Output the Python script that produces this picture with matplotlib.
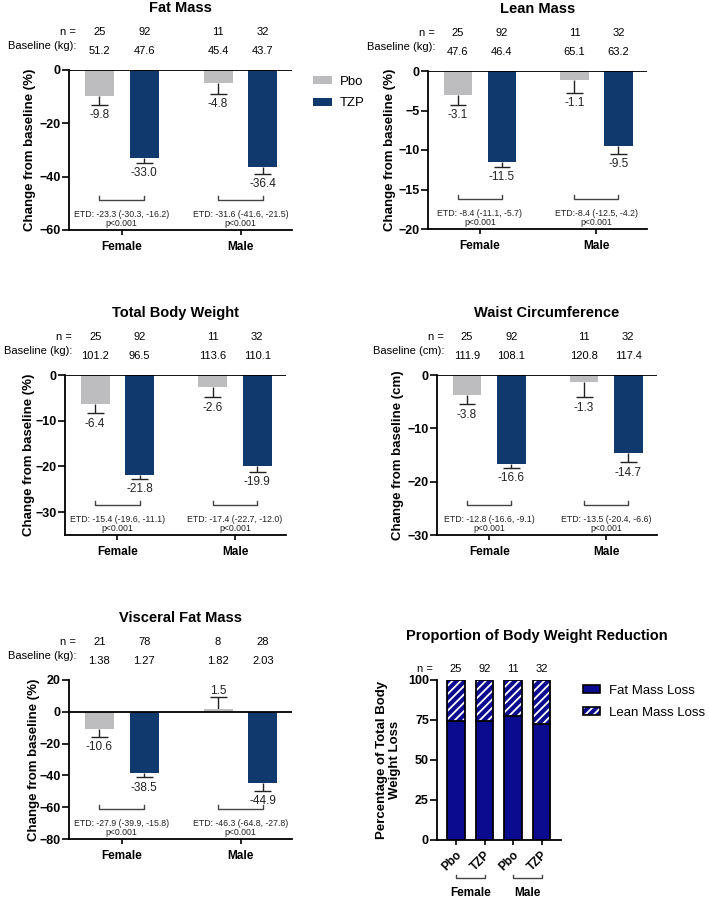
import numpy as np
import matplotlib.pyplot as plt
from matplotlib.patches import Patch
from matplotlib.legend_handler import HandlerTuple

plt.rcParams['font.family'] = ['Liberation Sans', 'DejaVu Sans']
plt.rcParams['hatch.linewidth'] = 1.3

W, H = 709, 899
GRAY = '#bdbdbf'
NAVY = '#103a6e'
FATC = '#0b0b8f'

groups = ['Female', 'Male']
arms = ['Pbo', 'TZP']

# order everywhere: Pbo female, TZP female, Pbo male, TZP male
fat_n = [25, 92, 11, 32]
fat_base = [51.2, 47.6, 45.4, 43.7]
fat_mean = [-9.8, -33.0, -4.8, -36.4]
fat_se = [3.3, 1.8, 4.3, 2.6]
fat_etd = ['ETD: -23.3 (-30.3, -16.2)', 'ETD: -31.6 (-41.6, -21.5)']

lean_n = [25, 92, 11, 32]
lean_base = [47.6, 46.4, 65.1, 63.2]
lean_mean = [-3.1, -11.5, -1.1, -9.5]
lean_se = [1.2, 0.65, 1.7, 1.0]
lean_etd = ['ETD: -8.4 (-11.1, -5.7)', 'ETD:-8.4 (-12.5, -4.2)']

tbw_n = [25, 92, 11, 32]
tbw_base = [101.2, 96.5, 113.6, 110.1]
tbw_mean = [-6.4, -21.8, -2.6, -19.9]
tbw_se = [2.0, 1.0, 2.3, 1.3]
tbw_etd = ['ETD: -15.4 (-19.6, -11.1)', 'ETD: -17.4 (-22.7, -12.0)']

waist_n = [25, 92, 11, 32]
waist_base = [111.9, 108.1, 120.8, 117.4]
waist_mean = [-3.8, -16.6, -1.3, -14.7]
waist_se = [1.7, 0.8, 2.9, 1.7]
waist_etd = ['ETD: -12.8 (-16.6, -9.1)', 'ETD: -13.5 (-20.4, -6.6)']

visc_n = [21, 78, 8, 28]
visc_base = [1.38, 1.27, 1.82, 2.03]
visc_mean = [-10.6, -38.5, 1.5, -44.9]
visc_se = [5.3, 2.8, 8.1, 4.6]
visc_etd = ['ETD: -27.9 (-39.9, -15.8)', 'ETD: -46.3 (-64.8, -27.8)']

prop_n = [25, 92, 11, 32]
prop_fat = [74.5, 74.5, 77.5, 72.5]
prop_lean = [25.5, 25.5, 22.5, 27.5]


def px_box(x0, y0, x1, y1):
    return [x0 / W, 1 - y1 / H, (x1 - x0) / W, (y1 - y0) / H]


fig = plt.figure(figsize=(W / 100, H / 100), dpi=100)

xpos = np.array([0, 1, 2.65, 3.65])
bar_colors = [GRAY, NAVY, GRAY, NAVY]


def bar_panel(box, title, ylabel, ylim, yticks, n, base, unit, fmt, mean, se, etd, lab_x):
    ax = fig.add_axes(px_box(*box))
    mean = np.array(mean)
    ends = mean + np.sign(mean) * np.array(se)
    ax.bar(xpos, mean, width=0.65, color=bar_colors, zorder=3)
    ax.vlines(xpos, mean, ends, color='#222222', lw=1, zorder=2)
    ax.hlines(ends, xpos - 0.19, xpos + 0.19, color='#222222', lw=1, zorder=2)
    for x, m, e in zip(xpos, mean, ends):
        if m < 0:
            ax.annotate(f'{m:.1f}', (x, e), xytext=(0, -3), textcoords='offset points',
                        ha='center', va='top', fontsize=8.5, color='#222222')
        else:
            ax.annotate(f'{m:.1f}', (x, e), xytext=(0, 0), textcoords='offset points',
                        ha='center', va='bottom', fontsize=8.5, color='#222222')
    ax.axhline(0, color='k', lw=1.3, zorder=4)
    ax.set_xlim(-0.68, 4.3)
    ax.set_ylim(*ylim)
    ax.set_yticks(yticks)
    ax.set_xticks([(xpos[0] + xpos[1]) / 2, (xpos[2] + xpos[3]) / 2])
    ax.set_xticklabels(groups, fontsize=8.5, fontweight='bold')
    for lab in ax.get_yticklabels():
        lab.set_fontweight('bold')
        lab.set_fontsize(9)
    ax.tick_params(axis='y', length=5, width=1.2, pad=0.8)
    ax.tick_params(axis='x', length=3.6, width=1.2, pad=4)
    for s in ['top', 'right']:
        ax.spines[s].set_visible(False)
    for s in ['left', 'bottom']:
        ax.spines[s].set_linewidth(1.3)
    ax.set_ylabel(ylabel, fontsize=9.5, fontweight='bold')
    ax.yaxis.set_label_coords(lab_x, 0.5)

    # header rows
    ax.annotate(title, (0.5, 1), xycoords='axes fraction', xytext=(0, 44.6),
                textcoords='offset points', ha='center', va='center',
                fontsize=10.5, fontweight='bold')
    ax.annotate('n =', (0, 1), xycoords='axes fraction', xytext=(5, 27.4),
                textcoords='offset points', ha='right', va='center', fontsize=8)
    ax.annotate(f'Baseline ({unit}):', (0, 1), xycoords='axes fraction', xytext=(5, 17.3),
                textcoords='offset points', ha='right', va='center', fontsize=8)
    for x, nn, b in zip(xpos, n, base):
        ax.annotate(str(nn), (x, 1), xycoords=('data', 'axes fraction'), xytext=(0, 27.4),
                    textcoords='offset points', ha='center', va='center', fontsize=8)
        ax.annotate(fmt % b, (x, 1), xycoords=('data', 'axes fraction'), xytext=(0, 13.7),
                    textcoords='offset points', ha='center', va='center', fontsize=8)

    # treatment difference brackets
    tr = ax.get_xaxis_transform()
    for g in range(2):
        x0, x1 = xpos[2 * g], xpos[2 * g + 1]
        ax.plot([x0, x0, x1, x1], [0.215, 0.19, 0.19, 0.215], color='#444444', lw=1,
                transform=tr, clip_on=False)
        ax.text((x0 + x1) / 2, 0.097, etd[g], transform=tr, ha='center', va='center',
                fontsize=6.3, color='#222222')
        ax.text((x0 + x1) / 2, 0.04, 'p<0.001', transform=tr, ha='center', va='center',
                fontsize=6.3, color='#222222')
    return ax


bar_panel((69, 70, 292, 230), 'Fat Mass', 'Change from baseline (%)', (-60, 0), [0, -20, -40, -60],
          fat_n, fat_base, 'kg', '%.1f', fat_mean, fat_se, fat_etd, -0.146)
bar_panel((428, 71, 647, 229), 'Lean Mass', 'Change from baseline (%)', (-20, 0), [0, -5, -10, -15, -20],
          lean_n, lean_base, 'kg', '%.1f', lean_mean, lean_se, lean_etd, -0.144)
bar_panel((65, 375, 286, 535), 'Total Body Weight', 'Change from baseline (%)', (-35, 0), [0, -10, -20, -30],
          tbw_n, tbw_base, 'kg', '%.1f', tbw_mean, tbw_se, tbw_etd, -0.138)
bar_panel((437, 375, 657, 535), 'Waist Circumference', 'Change from baseline (cm)', (-30, 0), [0, -10, -20, -30],
          waist_n, waist_base, 'cm', '%.1f', waist_mean, waist_se, waist_etd, -0.148)
bar_panel((69, 680, 292, 839), 'Visceral Fat Mass', 'Change from baseline (%)', (-80, 20), [20, 0, -20, -40, -60, -80],
          visc_n, visc_base, 'kg', '%.2f', visc_mean, visc_se, visc_etd, -0.128)

# Pbo / TZP legend
fig.legend(handles=[Patch(facecolor=GRAY), Patch(facecolor=NAVY)], labels=arms,
           loc='upper left', bbox_to_anchor=(313 / W, 1 - 76 / H), frameon=False,
           fontsize=9.5, handlelength=1.45, handleheight=0.55, handletextpad=0.6,
           labelspacing=0.7, borderpad=0, borderaxespad=0)

# proportion panel
ax = fig.add_axes(px_box(437, 680, 561, 840))
pos = np.arange(4)
ax.bar(pos, prop_fat, width=0.62, color=FATC, edgecolor='k', lw=1.3, zorder=3)
ax.bar(pos, prop_lean, bottom=prop_fat, width=0.62, color=FATC, edgecolor='white',
       hatch='////', lw=0, zorder=3)
ax.bar(pos, prop_lean, bottom=prop_fat, width=0.62, fill=False, edgecolor='k', lw=1.3, zorder=4)
ax.set_xlim(-0.67, 3.68)
ax.set_ylim(0, 100)
ax.set_yticks([0, 25, 50, 75, 100])
for lab in ax.get_yticklabels():
    lab.set_fontweight('bold')
    lab.set_fontsize(9)
ax.set_xticks(pos)
ax.set_xticklabels(arms * 2, rotation=45, ha='right', rotation_mode='anchor',
                   fontsize=8.5, fontweight='bold')
ax.tick_params(axis='y', length=5, width=1.2, pad=0.8)
ax.tick_params(axis='x', length=3.6, width=1.2, pad=3)
for s in ['top', 'right']:
    ax.spines[s].set_visible(False)
for s in ['left', 'bottom']:
    ax.spines[s].set_linewidth(1.3)
ax.set_ylabel('Percentage of Total Body\nWeight Loss', fontsize=9.5, fontweight='bold',
              linespacing=1.1)
ax.yaxis.set_label_coords(-0.29, 0.5)
ax.annotate('n =', (0, 1), xycoords='axes fraction', xytext=(-3, 8),
            textcoords='offset points', ha='right', va='center', fontsize=8)
for x, nn in zip(pos, prop_n):
    ax.annotate(str(nn), (x, 1), xycoords=('data', 'axes fraction'), xytext=(0, 8),
                textcoords='offset points', ha='center', va='center', fontsize=8)
tr = ax.get_xaxis_transform()
for g in range(2):
    x0, x1 = pos[2 * g], pos[2 * g + 1]
    ax.plot([x0, x0, x1, x1], [-0.218, -0.238, -0.238, -0.218], color='#444444', lw=1,
            transform=tr, clip_on=False)
    ax.text((x0 + x1) / 2, -0.33, groups[g], transform=tr, ha='center', va='center',
            fontsize=8.5, fontweight='bold')
fig.text(537 / W, 1 - 636 / H, 'Proportion of Body Weight Reduction', ha='center',
         va='center', fontsize=10.5, fontweight='bold')

fat_patch = Patch(facecolor=FATC, edgecolor='k', lw=1.2)
lean_hatch = Patch(facecolor=FATC, edgecolor='white', hatch='////', lw=0)
lean_edge = Patch(fill=False, edgecolor='k', lw=1.2)
fig.legend(handles=[fat_patch, (lean_hatch, lean_edge)], labels=['Fat Mass Loss', 'Lean Mass Loss'],
           handler_map={tuple: HandlerTuple(ndivide=1, pad=0)},
           loc='upper left', bbox_to_anchor=(583 / W, 1 - 685 / H), frameon=False,
           fontsize=9.5, handlelength=1.3, handleheight=0.55, handletextpad=0.7,
           labelspacing=0.75, borderpad=0, borderaxespad=0)

fig.savefig('out.png', dpi=100)
